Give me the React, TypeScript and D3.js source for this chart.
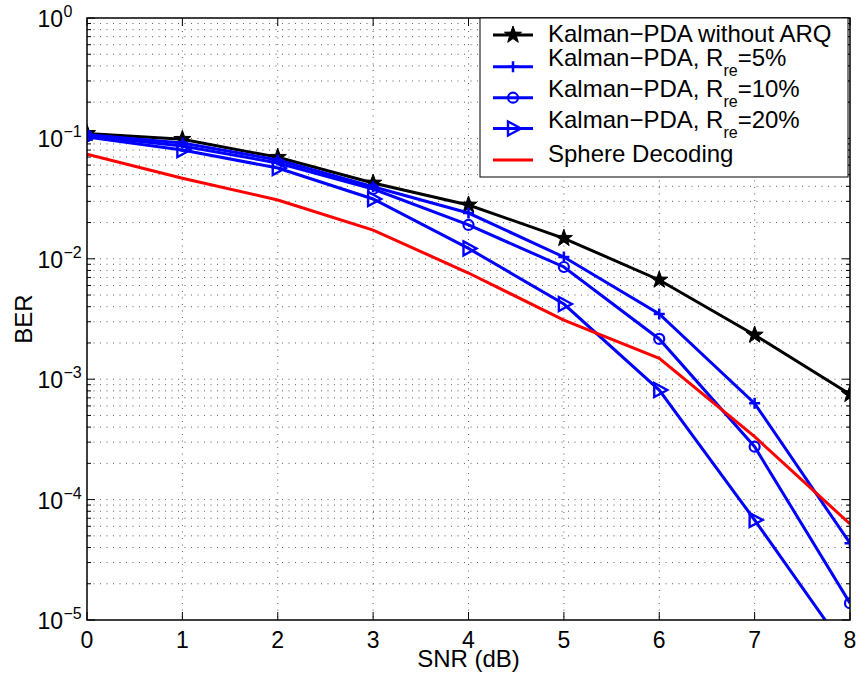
import React from "react";
import * as d3 from "d3";

const snr = [0, 1, 2, 3, 4, 5, 6, 7, 8];
const berNoArq = [0.110, 0.0983, 0.0697, 0.0426, 0.028, 0.0148, 0.00667, 0.00233, 0.00075];
const berRe5 = [0.107, 0.0916, 0.0662, 0.0397, 0.024, 0.01035, 0.00348, 0.00063, 4.34e-5];
const berRe10 = [0.105, 0.0865, 0.0625, 0.038, 0.0191, 0.00855, 0.00216, 0.000275, 1.38e-5];
const berRe20 = [0.1027, 0.08, 0.0568, 0.0314, 0.0122, 0.00421, 0.000813, 6.77e-5, 5.1e-6];
const berSphere = [0.0738, 0.0467, 0.0308, 0.0173, 0.00762, 0.0031, 0.00149, 0.000333, 6.27e-5];

const xTicks = [0, 1, 2, 3, 4, 5, 6, 7, 8];
const yExponents = [0, -1, -2, -3, -4, -5];
const minorMult = [2, 3, 4, 5, 6, 7, 8, 9];

const seriesNames = [
  { main: "Kalman−PDA without ARQ", sub: "", tail: "" },
  { main: "Kalman−PDA, R", sub: "re", tail: "=5%" },
  { main: "Kalman−PDA, R", sub: "re", tail: "=10%" },
  { main: "Kalman−PDA, R", sub: "re", tail: "=20%" },
  { main: "Sphere Decoding", sub: "", tail: "" },
];
const seriesValues = [berNoArq, berRe5, berRe10, berRe20, berSphere];
const seriesColors = ["#000000", "#0000ff", "#0000ff", "#0000ff", "#ff0000"];
const seriesMarkers = ["star", "plus", "circle", "triangle", "none"];

const W = 861, H = 683;
const L = 87, T = 18, R = 850, B = 620;
const FONT = "'Liberation Sans', Arial, Helvetica, sans-serif";

const x = d3.scaleLinear().domain([0, 8]).range([L, R]);
const y = d3.scaleLog().domain([1e-5, 1]).range([B, T]);

function starPath(ro: number, ri: number) {
  const pts: string[] = [];
  for (let i = 0; i < 10; i++) {
    const r = i % 2 === 0 ? ro : ri;
    const a = -Math.PI / 2 + (i * Math.PI) / 5;
    pts.push(`${(r * Math.cos(a)).toFixed(2)},${(r * Math.sin(a)).toFixed(2)}`);
  }
  return "M" + pts.join("L") + "Z";
}
const STAR = starPath(9, 3.6);

function Marker({ kind, cx, cy, color }: { kind: string; cx: number; cy: number; color: string }) {
  const tr = `translate(${cx},${cy})`;
  if (kind === "star") return <path d={STAR} transform={tr} fill={color} stroke={color} strokeWidth={1} />;
  if (kind === "plus")
    return (
      <path d="M-5.5,0L5.5,0M0,-5.5L0,5.5" transform={tr} stroke={color} strokeWidth={2.5} fill="none" />
    );
  if (kind === "circle") return <circle cx={cx} cy={cy} r={5} fill="none" stroke={color} strokeWidth={2.2} />;
  if (kind === "triangle")
    return <path d="M-5,-7L8,0L-5,7Z" transform={tr} fill="none" stroke={color} strokeWidth={2.4} />;
  return null;
}

export default function App() {
  const line = d3
    .line<number>()
    .x((_, i) => x(snr[i]))
    .y((v) => y(v));

  const minorVals: number[] = [];
  yExponents.slice(0, 5).forEach((e) => {
    minorMult.forEach((m) => minorVals.push(m * Math.pow(10, e - 1)));
  });
  const majorVals = yExponents.map((e) => Math.pow(10, e));

  const legX = 480, legY = 18, legW = 368, legH = 159;
  const rowY = [35, 66.7, 97.7, 128.5, 160];
  const baseOff = [7, -1, -1, -1, 2];

  return (
    <svg
      width={W}
      height={H}
      style={{ position: "absolute", left: 0, top: 0, background: "#fff" }}
      fontFamily={FONT}
    >
      <defs>
        <clipPath id="plotclip">
          <rect x={L} y={T} width={R - L} height={B - T} />
        </clipPath>
      </defs>
      <rect x={0} y={0} width={W} height={H} fill="#fff" />
      {/* grid */}
      <g stroke="#333" strokeWidth={0.8} strokeDasharray="1,5.5" fill="none">
        {xTicks.slice(1, -1).map((t) => (
          <line key={"vx" + t} x1={x(t)} x2={x(t)} y1={T} y2={B} />
        ))}
        {minorVals.concat(majorVals.slice(1, -1)).map((v, i) => (
          <line key={"hy" + i} x1={L} x2={R} y1={y(v)} y2={y(v)} />
        ))}
      </g>
      {/* ticks */}
      <g stroke="#000" strokeWidth={1}>
        {xTicks.map((t) => (
          <g key={"xt" + t}>
            <line x1={x(t)} x2={x(t)} y1={B} y2={B - 8} />
            <line x1={x(t)} x2={x(t)} y1={T} y2={T + 8} />
          </g>
        ))}
        {majorVals.map((v, i) => (
          <g key={"ym" + i}>
            <line x1={L} x2={L + 8} y1={y(v)} y2={y(v)} />
            <line x1={R} x2={R - 8} y1={y(v)} y2={y(v)} />
          </g>
        ))}
        {minorVals.map((v, i) => (
          <g key={"yn" + i}>
            <line x1={L} x2={L + 4} y1={y(v)} y2={y(v)} />
            <line x1={R} x2={R - 4} y1={y(v)} y2={y(v)} />
          </g>
        ))}
      </g>
      {/* data */}
      <g clipPath="url(#plotclip)">
        {seriesValues.map((vals, si) => (
          <g key={"s" + si}>
            <path d={line(vals) || ""} fill="none" stroke={seriesColors[si]} strokeWidth={3} strokeLinejoin="miter" />
            {vals.map((v, i) => (
              <Marker key={i} kind={seriesMarkers[si]} cx={x(snr[i])} cy={y(v)} color={seriesColors[si]} />
            ))}
          </g>
        ))}
      </g>
      {/* axes box */}
      <rect x={L} y={T} width={R - L} height={B - T} fill="none" stroke="#000" strokeWidth={1.5} />
      {/* x tick labels */}
      {xTicks.map((t) => (
        <text key={"xl" + t} x={x(t)} y={648} fontSize={23} textAnchor="middle" fill="#000">
          {t}
        </text>
      ))}
      {/* y tick labels */}
      {yExponents.map((e) => {
        const ty = y(Math.pow(10, e));
        return (
          <g key={"yl" + e}>
            <text x={63} y={ty + 9} fontSize={23} textAnchor="end" fill="#000">
              10
            </text>
            <text x={63.5} y={ty - 1} fontSize={16} textAnchor="start" fill="#000">
              {e === 0 ? "0" : "−" + Math.abs(e)}
            </text>
          </g>
        );
      })}
      {/* axis labels */}
      <text x={(L + R) / 2} y={667} fontSize={24} textAnchor="middle" fill="#000">
        SNR (dB)
      </text>
      <text transform={`translate(32,${(T + B) / 2}) rotate(-90)`} fontSize={24} textAnchor="middle" fill="#000">
        BER
      </text>
      {/* legend */}
      <rect x={legX} y={legY} width={legW} height={legH} fill="#fff" stroke="#000" strokeWidth={1} />
      {seriesNames.map((n, i) => (
        <g key={"lg" + i}>
          <line x1={493} x2={533} y1={rowY[i]} y2={rowY[i]} stroke={seriesColors[i]} strokeWidth={3} />
          <Marker kind={seriesMarkers[i]} cx={513} cy={rowY[i]} color={seriesColors[i]} />
          <text x={548} y={rowY[i] + baseOff[i]} fontSize={24} fill="#000">
            {n.main}
            {n.sub ? (
              <tspan fontSize={16} dy={10}>
                {n.sub}
              </tspan>
            ) : null}
            {n.tail ? <tspan dy={-10}>{n.tail}</tspan> : null}
          </text>
        </g>
      ))}
    </svg>
  );
}
